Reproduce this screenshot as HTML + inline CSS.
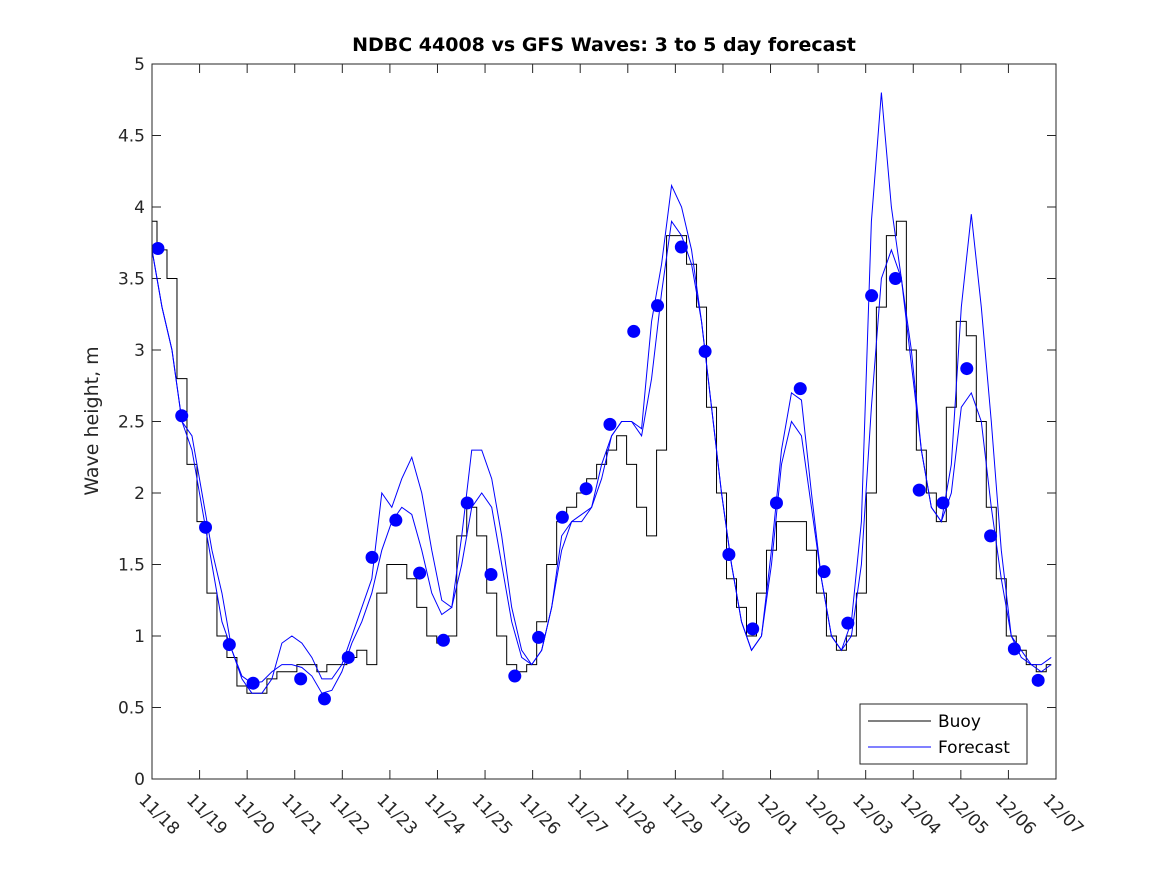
<!DOCTYPE html>
<html><head><meta charset="utf-8"><style>
body{margin:0;background:#fff}
svg{display:block;font-family:"DejaVu Sans","Liberation Sans",sans-serif}
</style></head><body>
<svg id="chart" width="1167" height="875" xmlns="http://www.w3.org/2000/svg">
<rect width="1167" height="875" fill="#fff"/>
<text x="604" y="51" text-anchor="middle" font-size="19" font-weight="bold" fill="#000">NDBC 44008 vs GFS Waves: 3 to 5 day forecast</text>
<text transform="translate(98,421) rotate(-90)" text-anchor="middle" font-size="19" fill="#262626">Wave height, m</text>
<g id="grid"></g>
<g id="marks"></g>
<rect x="152" y="64" width="904" height="715" fill="none" stroke="#262626" stroke-width="1"/>
<g>
<rect x="860" y="704" width="167" height="60" fill="#fff" stroke="#262626"/>
<line x1="868" y1="721" x2="931" y2="721" stroke="#000"/>
<text x="938" y="727" font-size="17" fill="#000">Buoy</text>
<line x1="868" y1="747" x2="931" y2="747" stroke="#0000ff"/>
<text x="938" y="753" font-size="17" fill="#000">Forecast</text>
</g>
</svg>
<script>
const xLabels=["11/18","11/19","11/20","11/21","11/22","11/23","11/24","11/25","11/26","11/27","11/28","11/29","11/30","12/01","12/02","12/03","12/04","12/05","12/06","12/07"];
const yTicks=[0,0.5,1,1.5,2,2.5,3,3.5,4,4.5,5];
const seriesStep=0.21;
const buoy=[3.9,3.7,3.5,2.8,2.2,1.8,1.3,1.0,0.85,0.65,0.6,0.6,0.7,0.75,0.75,0.8,0.8,0.75,0.8,0.8,0.85,0.9,0.8,1.3,1.5,1.5,1.4,1.2,1.0,0.95,1.0,1.7,1.9,1.7,1.3,1.0,0.8,0.75,0.8,1.1,1.5,1.8,1.9,2.0,2.1,2.2,2.3,2.4,2.2,1.9,1.7,2.3,3.8,3.8,3.6,3.3,2.6,2.0,1.4,1.2,1.0,1.3,1.6,1.8,1.8,1.8,1.6,1.3,1.0,0.9,1.0,1.3,2.0,3.3,3.8,3.9,3.0,2.3,2.0,1.8,2.6,3.2,3.1,2.5,1.9,1.4,1.0,0.9,0.8,0.75,0.8];
const forecastA=[3.7,3.3,3.0,2.5,2.3,1.9,1.5,1.1,0.9,0.72,0.67,0.68,0.75,0.8,0.8,0.78,0.72,0.6,0.62,0.75,0.95,1.1,1.3,1.6,1.8,1.9,1.85,1.6,1.3,1.15,1.2,1.5,1.9,2.0,1.9,1.5,1.1,0.85,0.8,0.9,1.2,1.6,1.8,1.85,1.9,2.2,2.4,2.5,2.5,2.4,2.8,3.4,3.9,3.8,3.6,3.2,2.6,2.0,1.5,1.1,0.9,1.0,1.5,2.2,2.5,2.4,1.9,1.4,1.0,0.9,1.0,1.5,2.6,3.5,3.7,3.5,3.0,2.3,1.9,1.8,2.0,2.6,2.7,2.5,1.9,1.4,1.0,0.9,0.8,0.75,0.8];
const forecastB=[3.7,3.3,3.0,2.5,2.4,2.0,1.6,1.3,0.9,0.7,0.6,0.6,0.7,0.95,1.0,0.95,0.85,0.7,0.7,0.8,1.0,1.2,1.4,2.0,1.9,2.1,2.25,2.0,1.6,1.25,1.2,1.7,2.3,2.3,2.1,1.7,1.2,0.9,0.8,0.9,1.2,1.7,1.8,1.8,1.9,2.1,2.4,2.5,2.5,2.45,3.2,3.6,4.15,4.0,3.7,3.2,2.6,2.0,1.5,1.1,0.9,1.0,1.6,2.3,2.7,2.65,2.0,1.4,1.0,0.9,1.1,1.8,3.9,4.8,4.0,3.5,2.9,2.3,1.9,1.8,2.2,3.3,3.95,3.3,2.5,1.6,1.0,0.85,0.8,0.8,0.85];
const dotStart=0.125;
const dots=[3.71,2.54,1.76,0.94,0.67,null,0.70,0.56,0.85,1.55,1.81,1.44,0.97,1.93,1.43,0.72,0.99,1.83,2.03,2.48,3.13,3.31,3.72,2.99,1.57,1.05,1.93,2.73,1.45,1.09,3.38,3.50,2.02,1.93,2.87,1.70,0.91,0.69];
const X0=152,X1=1056,Y0=779,Y1=64,days=19,ymax=5;
const xs=d=>X0+(X1-X0)*d/days, ys=v=>Y0-(Y0-Y1)*v/ymax;
const NS="http://www.w3.org/2000/svg";
const grid=document.getElementById('grid'),marks=document.getElementById('marks');
function mk(t,a,p){const e=document.createElementNS(NS,t);for(const k in a)e.setAttribute(k,a[k]);p.appendChild(e);return e;}
yTicks.forEach(v=>{
 const t=mk('line',{x1:X0,x2:X0+9,y1:ys(v),y2:ys(v),stroke:'#262626'},grid);
 
 
 const t2=mk('line',{x1:X1-9,x2:X1,y1:ys(v),y2:ys(v),stroke:'#262626'},grid);
 
 
 const l=mk('text',{x:X0-7,y:ys(v)+6,'text-anchor':'end','font-size':'17',fill:'#262626'},grid);
 l.textContent=String(v);
 
 
});
xLabels.forEach((s,i)=>{
 const x=xs(i);
 const t=mk('line',{x1:x,x2:x,y1:Y0,y2:Y0-9,stroke:'#262626'},grid);
 
 
 const t2=mk('line',{x1:x,x2:x,y1:Y1,y2:Y1+9,stroke:'#262626'},grid);
 
 
 const l=mk('text',{x:x-14,y:Y0+22,'font-size':'17',fill:'#262626',transform:`rotate(45 ${x-14} ${Y0+22})`},grid);
 l.textContent=s;
 
 
});
function path(arr,stepped){let d='';arr.forEach((v,i)=>{const x=Math.min(xs(i*seriesStep),X1),y=ys(v);if(i==0)d='M'+x+' '+y;else if(stepped){const xm=Math.min(xs((i-0.5)*seriesStep),X1);d+=' H'+xm+' V'+y;}else d+=' L'+x+' '+y;});if(stepped){d+=' H'+Math.min(xs((arr.length-1)*seriesStep),X1);}return d;}
const b=mk('path',{d:path(buoy,true),fill:'none',stroke:'#000','stroke-width':1},marks);


[forecastA,forecastB].forEach(f=>{
 const p=mk('path',{d:path(f,false),fill:'none',stroke:'#0000ff','stroke-width':1},marks);
 
 
});
dots.forEach((v,i)=>{
 if(v===null)return;
 const c=mk('circle',{cx:xs(dotStart+i*0.5),cy:ys(v),r:6.5,fill:'#0000ff'},marks);
 
 
});
</script>
</body></html>
